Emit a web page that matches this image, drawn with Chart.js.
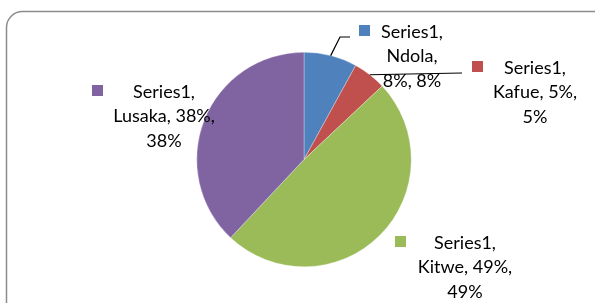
<!DOCTYPE html>
<html>
<head>
<meta charset="utf-8">
<script src="https://cdn.jsdelivr.net/npm/chart.js@4"></script>
<style>
  html, body { margin: 0; padding: 0; background: #fff; }
  #wrap { width: 595px; height: 303px; position: relative; }
</style>
</head>
<body>
<div id="wrap"><canvas id="pieChart" width="595" height="303"></canvas></div>
<script>
// data
const seriesName = "Series1";
const cities = ["Ndola", "Kafue", "Kitwe", "Lusaka"];
const shares = [8, 5, 49, 38];
const sliceColors = ["#4F81BD", "#C0504D", "#9BBB59", "#8064A2"];

// where each data label sits (text centre x, first line y, wrap width, key x)
const labelBoxes = [
  { x: 412, y: 32, w: 70, kx: 359, leader: [[340, 37], [350, 37]] },
  { x: 535, y: 68, w: 96, kx: 472, leader: [[462, 73]] },
  { x: 465, y: 243, w: 100, kx: 395, leader: null },
  { x: 164, y: 92, w: 112, kx: 92, leader: null }
];

const FONT = "18px Lato, 'Liberation Sans', sans-serif";
const LINE_H = 24.5;

function wrapWords(ctx, text, maxW) {
  const words = text.split(" ");
  const lines = [];
  let cur = "";
  words.forEach(w => {
    const test = cur ? cur + " " + w : w;
    if (cur && ctx.measureText(test).width > maxW) {
      lines.push(cur);
      cur = w;
    } else {
      cur = test;
    }
  });
  if (cur) lines.push(cur);
  return lines;
}

const frame = {
  id: "frame",
  beforeDraw(chart) {
    const ctx = chart.ctx;
    ctx.save();
    ctx.strokeStyle = "#8c8c8c";
    ctx.lineWidth = 1.5;
    ctx.beginPath();
    ctx.roundRect(6.5, 11.5, 620, 320, 16);
    ctx.stroke();
    ctx.restore();
  }
};

const dataLabels = {
  id: "dataLabels",
  afterDatasetsDraw(chart) {
    const ctx = chart.ctx;
    const meta = chart.getDatasetMeta(0);
    const total = shares.reduce((a, b) => a + b, 0);
    ctx.save();
    ctx.font = FONT;
    meta.data.forEach((arc, i) => {
      const box = labelBoxes[i];
      const pct = Math.round(shares[i] / total * 100);
      const text = seriesName + ", " + cities[i] + ", " + pct + "%, " + shares[i] + "%";
      const lines = wrapWords(ctx, text, box.w);

      // leader line
      if (box.leader) {
        const mid = (arc.startAngle + arc.endAngle) / 2;
        const ax = arc.x + Math.cos(mid) * arc.outerRadius;
        const ay = arc.y + Math.sin(mid) * arc.outerRadius;
        ctx.strokeStyle = "#000";
        ctx.lineWidth = 1.2;
        ctx.beginPath();
        ctx.moveTo(ax, ay);
        box.leader.forEach(p => ctx.lineTo(p[0], p[1]));
        ctx.stroke();
      }

      // legend key square
      ctx.fillStyle = sliceColors[i];
      ctx.fillRect(box.kx, box.y - 7, 11, 11);

      ctx.fillStyle = "#000";
      ctx.textAlign = "center";
      ctx.textBaseline = "middle";
      lines.forEach((ln, k) => {
        ctx.fillText(ln, box.x, box.y + k * LINE_H);
      });
    });
    ctx.restore();
  }
};

new Chart(
document.getElementById("pieChart"),
{
type: "pie",
data: {
  labels: cities,
  datasets: [{
    label: seriesName,
    data: shares,
    backgroundColor: sliceColors,
    borderColor: "rgba(255,255,255,0.6)",
    borderWidth: 0.5
  }]
},
options: {
  responsive: false,
  animation: false,
  layout: {
    padding: { left: 196, right: 183, top: 52, bottom: 36 }
  },
  plugins: {
    legend: { display: false },
    tooltip: { enabled: false }
  }
},
plugins: [frame, dataLabels]
});
</script>
</body>
</html>
